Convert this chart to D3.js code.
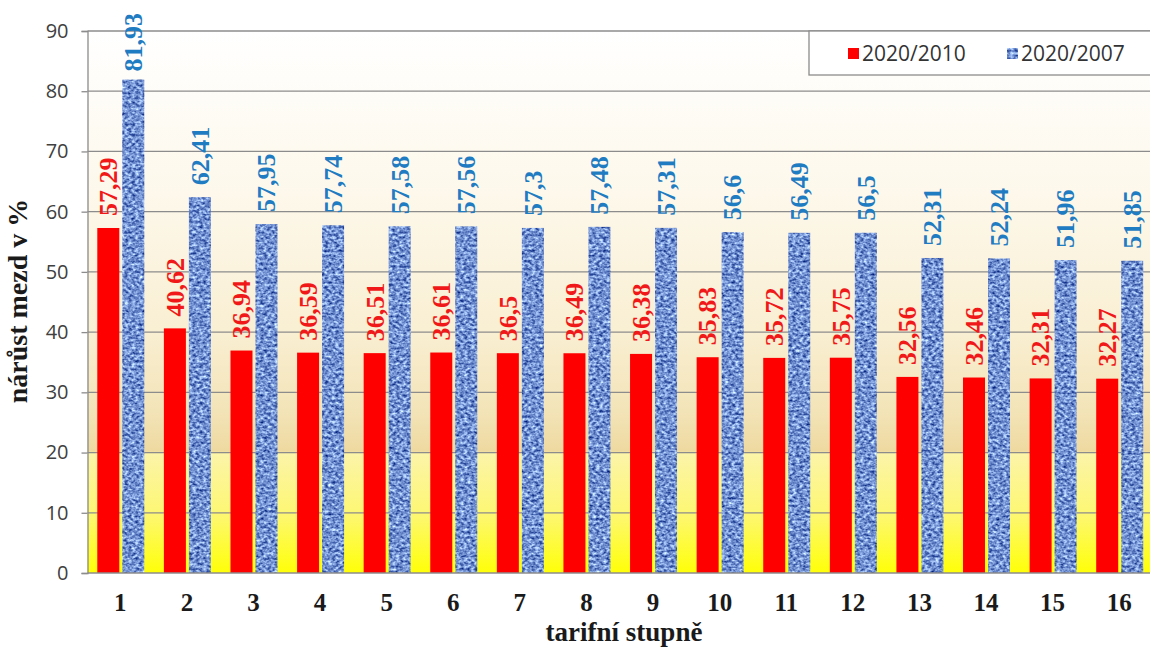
<!DOCTYPE html>
<html>
<head>
<meta charset="utf-8">
<script src="https://cdn.jsdelivr.net/npm/d3@7"></script>
<style>
  html, body { margin: 0; padding: 0; background: #ffffff; }
  svg { display: block; }
</style>
</head>
<body>
<svg id="chart" width="1150" height="654"></svg>
<script>
// Wage growth by tariff grade, two comparison periods
const categories = ["1","2","3","4","5","6","7","8","9","10","11","12","13","14","15","16"];
const growth2020vs2010 = [57.29, 40.62, 36.94, 36.59, 36.51, 36.61, 36.5, 36.49, 36.38, 35.83, 35.72, 35.75, 32.56, 32.46, 32.31, 32.27];
const growth2020vs2007 = [81.93, 62.41, 57.95, 57.74, 57.58, 57.56, 57.3, 57.48, 57.31, 56.6, 56.49, 56.5, 52.31, 52.24, 51.96, 51.85];
const seriesNames = ["2020/2010", "2020/2007"];
const yTicks = [0, 10, 20, 30, 40, 50, 60, 70, 80, 90];
const yTitle = "nárůst mezd v %";
const xTitle = "tarifní stupně";

const svg = d3.select("#chart");
const plot = { left: 87.5, right: 1153, top: 31, bottom: 573 };

const x = d3.scaleBand().domain(categories).range([plot.left, plot.right]).paddingInner(0).paddingOuter(0);
const y = d3.scaleLinear().domain([0, 90]).range([plot.bottom, plot.top]);

const defs = svg.append("defs");

// plot background: white at the top fading through cream and tan into yellow
const bg = defs.append("linearGradient").attr("id", "plotBg")
  .attr("x1", 0).attr("y1", 0).attr("x2", 0).attr("y2", 1);
[
  [0.00, "#ffffff"],
  [0.30, "#fdf8eb"],
  [0.55, "#f9efd3"],
  [0.70, "#f3e4b8"],
  [0.775, "#eed9a0"],
  [0.78, "#fcf4a8"],
  [0.89, "#fdf774"],
  [1.00, "#ffff08"]
].forEach(([o, c]) => bg.append("stop").attr("offset", o).attr("stop-color", c));

// woven blue texture for the second series
const knit = defs.append("filter").attr("id", "knit")
  .attr("x", 0).attr("y", 0).attr("width", 1).attr("height", 1)
  .attr("color-interpolation-filters", "sRGB");
knit.append("feTurbulence").attr("type", "fractalNoise")
  .attr("baseFrequency", "0.28 0.38").attr("numOctaves", 2).attr("seed", 7).attr("result", "noise");
knit.append("feColorMatrix").attr("in", "noise").attr("type", "matrix")
  .attr("values", [
    "1.2 0 0 0 -0.15",
    "1.2 0 0 0 -0.03",
    "0.9 0 0 0 0.37",
    "0 0 0 0 1"
  ].join(" ")).attr("result", "tint");
knit.append("feComposite").attr("in", "tint").attr("in2", "SourceGraphic").attr("operator", "in");

svg.append("rect")
  .attr("x", plot.left).attr("y", plot.top)
  .attr("width", plot.right - plot.left).attr("height", plot.bottom - plot.top)
  .attr("fill", "url(#plotBg)");

// gridlines
svg.append("g").selectAll("line").data(yTicks.filter(d => d > 0)).join("line")
  .attr("x1", plot.left).attr("x2", plot.right)
  .attr("y1", d => y(d)).attr("y2", d => y(d))
  .attr("stroke", "#8c8c8c").attr("stroke-width", 1.3);

// y axis
const yAxis = svg.append("g").attr("transform", `translate(${plot.left},0)`)
  .call(d3.axisLeft(y).tickValues(yTicks).tickSize(6).tickPadding(13));
yAxis.select(".domain").attr("stroke", "#8c8c8c").attr("stroke-width", 1.3);
yAxis.selectAll(".tick line").attr("stroke", "#8c8c8c").attr("stroke-width", 1.3);
yAxis.selectAll(".tick text")
  .attr("font-family", "'Open Sans', sans-serif").attr("font-size", 20)
  .attr("fill", "#404040");

// bars
const barW = 22, gap = 3;
const pad = (x.bandwidth() - 2 * barW - gap) / 2;
const rows = categories.map((c, i) => ({ c, a: growth2020vs2010[i], b: growth2020vs2007[i] }));

svg.append("g").selectAll("rect").data(rows).join("rect")
  .attr("x", d => x(d.c) + pad).attr("width", barW)
  .attr("y", d => y(d.a)).attr("height", d => y(0) - y(d.a))
  .attr("fill", "#ff0000");

svg.append("g").selectAll("rect").data(rows).join("rect")
  .attr("x", d => x(d.c) + pad + barW + gap).attr("width", barW)
  .attr("y", d => y(d.b)).attr("height", d => y(0) - y(d.b))
  .attr("fill", "#7896d6").attr("filter", "url(#knit)");

// bottom axis line
svg.append("line")
  .attr("x1", plot.left).attr("x2", plot.right)
  .attr("y1", y(0)).attr("y2", y(0))
  .attr("stroke", "#8c8c8c").attr("stroke-width", 1.3);

// value labels, rotated, placed above each bar and kept inside the frame
const fmt = v => String(v).replace(".", ",");
function addLabels(values, offset, color) {
  const g = svg.append("g");
  values.forEach((v, i) => {
    const cx = x(categories[i]) + offset + barW / 2;
    const t = g.append("text")
      .attr("font-family", "'Liberation Serif', 'Times New Roman', serif")
      .attr("font-weight", "bold").attr("font-size", 26)
      .attr("fill", color).attr("dy", "0.34em")
      .text(fmt(v));
    const len = t.node().getComputedTextLength();
    const startY = Math.max(y(v) - 12, 13 + len);
    t.attr("transform", `translate(${cx},${startY}) rotate(-90)`);
  });
}
addLabels(growth2020vs2010, pad, "#f01818");
addLabels(growth2020vs2007, pad + barW + gap, "#1f7cc2");

// x tick labels
svg.append("g").selectAll("text").data(categories).join("text")
  .attr("x", d => x(d) + x.bandwidth() / 2 - 0.5).attr("y", 611)
  .attr("text-anchor", "middle")
  .attr("font-family", "'Liberation Serif', 'Times New Roman', serif")
  .attr("font-weight", "bold").attr("font-size", 25).attr("fill", "#1a1a1a")
  .text(d => d);

// axis titles
svg.append("text")
  .attr("x", 624).attr("y", 641).attr("text-anchor", "middle")
  .attr("font-family", "'Liberation Serif', 'Times New Roman', serif")
  .attr("font-weight", "bold").attr("font-size", 27).attr("fill", "#1a1a1a")
  .text(xTitle);

svg.append("text")
  .attr("transform", `translate(27,301) rotate(-90)`).attr("text-anchor", "middle")
  .attr("font-family", "'Liberation Serif', 'Times New Roman', serif")
  .attr("font-weight", "bold").attr("font-size", 28).attr("fill", "#1a1a1a")
  .text(yTitle);

// legend
const legend = svg.append("g");
legend.append("rect")
  .attr("x", 809).attr("y", 31).attr("width", 360).attr("height", 44)
  .attr("fill", "#ffffff").attr("stroke", "#8c8c8c").attr("stroke-width", 1.3);
const legendX = [848, 1007];
seriesNames.forEach((name, i) => {
  const sw = legend.append("rect")
    .attr("x", legendX[i]).attr("y", 48).attr("width", 11).attr("height", 11);
  if (i === 0) sw.attr("fill", "#ff0000");
  else sw.attr("fill", "#7896d6").attr("filter", "url(#knit)");
  legend.append("text")
    .attr("x", legendX[i] + 14).attr("y", 61)
    .attr("font-family", "'Open Sans', sans-serif").attr("font-size", 21)
    .attr("fill", "#333333")
    .text(name);
});
</script>
</body>
</html>
